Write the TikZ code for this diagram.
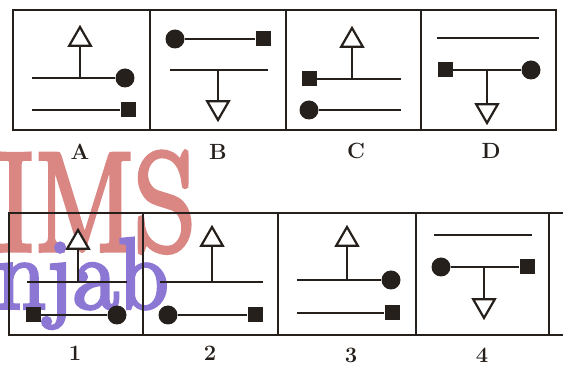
\documentclass[tikz,border=0pt]{standalone}
\usepackage{fontspec}
\usepackage{tikz}
\usetikzlibrary{shapes.geometric}
\newfontfamily\wmfont[FakeBold=4]{Latin Modern Roman}
\definecolor{ink}{RGB}{38,32,28}
\definecolor{wmred}{RGB}{218,134,130}
\definecolor{wmblue}{RGB}{140,120,212}

\begin{document}
\begin{tikzpicture}[x=1pt,y=-1pt,
  frame/.style={draw=ink,line width=2.8pt},
  bar/.style={draw=ink,line width=2.5pt},
  dot/.style={circle,fill=ink,inner sep=0pt,minimum size=19pt},
  sq/.style={rectangle,fill=ink,inner sep=0pt,minimum size=15pt},
  tri/.style={regular polygon,regular polygon sides=3,draw=ink,fill=white,line width=2.2pt,inner sep=0pt,minimum size=25pt},
  trid/.style={tri,shape border rotate=180},
  lab/.style={font=\fontsize{22}{22}\selectfont\bfseries,text=ink},
  wmtext/.style={draw=none,inner sep=0pt,anchor=base west}]
\useasboundingbox (0,0) rectangle (574,371);

% watermark (under the figures)
\node[wmtext,text=wmred,font=\fontsize{140}{140}\selectfont\wmfont,xscale=.84] (wmA) at (-4,250) {IMS};
\node[wmtext,text=wmblue,font=\fontsize{100}{100}\selectfont\wmfont,xscale=.98] (wmB) at (-4,308) {njab};

% question figures
\draw[frame] (13,10) rectangle (556,130);
\draw[frame] (150,10) -- (150,130) (286,10) -- (286,130) (421,10) -- (421,130);

% A
\node[tri] (triA) at (80,39.5) {};
\coordinate (jA) at (80,78);
\coordinate (lA) at (32,78);
\node[dot] (dotA) at (125,78) {};
\coordinate (mA) at (32,110);
\node[sq] (sqA) at (128,110) {};
\draw[bar] (lA) -- (dotA);
\draw[bar] (jA) -- (triA.south);
\draw[bar] (mA) -- (sqA);
\node[lab] (labA) at (80,152) {A};

% B
\node[dot] (dotB) at (175,39) {};
\node[sq] (sqB) at (263,39) {};
\coordinate (lB) at (170,70);
\coordinate (rB) at (268,70);
\coordinate (jB) at (218,70);
\node[trid] (triB) at (218,107.5) {};
\draw[bar] (dotB) -- (sqB);
\draw[bar] (lB) -- (rB);
\draw[bar] (jB) -- (triB.north);
\node[lab] (labB) at (218,152) {B};

% C
\node[tri] (triC) at (352,40.5) {};
\node[sq] (sqC) at (309,79) {};
\coordinate (rC) at (401,79);
\coordinate (jC) at (352,79);
\node[dot] (dotC) at (309,110) {};
\coordinate (sC) at (401,110);
\draw[bar] (sqC) -- (rC);
\draw[bar] (jC) -- (triC.south);
\draw[bar] (dotC) -- (sC);
\node[lab] (labC) at (356,151) {C};

% D
\coordinate (lD) at (437,38);
\coordinate (rD) at (539,38);
\node[sq] (sqD) at (445,70) {};
\node[dot] (dotD) at (531,70) {};
\coordinate (jD) at (487,70);
\node[trid] (triD) at (487,110.5) {};
\draw[bar] (lD) -- (rD);
\draw[bar] (sqD) -- (dotD);
\draw[bar] (jD) -- (triD.north);
\node[lab] (labD) at (491,151) {D};

% answer figures
\draw[frame] (9,213) rectangle (549,335);
\draw[frame] (549,213) -- (563,213) (549,335) -- (563,335);
\draw[frame] (143,213) -- (143,335) (278,213) -- (278,335) (416,213) -- (416,335);

% 1
\node[tri] (tri1) at (78,242.5) {};
\coordinate (j1) at (78,282);
\coordinate (l1) at (27,282);
\coordinate (r1) at (127,282);
\node[sq] (sq1) at (33,315) {};
\node[dot] (dot1) at (117,315) {};
\draw[bar] (l1) -- (r1);
\draw[bar] (j1) -- (tri1.south);
\draw[bar] (sq1) -- (dot1);
\node[lab] (lab1) at (75,353) {1};

% 2
\node[tri] (tri2) at (212,239.5) {};
\coordinate (j2) at (212,282);
\coordinate (l2) at (160,282);
\coordinate (r2) at (263,282);
\node[dot] (dot2) at (168,315) {};
\node[sq] (sq2) at (255,315) {};
\draw[bar] (l2) -- (r2);
\draw[bar] (j2) -- (tri2.south);
\draw[bar] (dot2) -- (sq2);
\node[lab] (lab2) at (210,353) {2};

% 3
\node[tri] (tri3) at (347,239.5) {};
\coordinate (j3) at (347,280);
\coordinate (l3) at (297,280);
\node[dot] (dot3) at (391,280) {};
\coordinate (m3) at (297,313);
\node[sq] (sq3) at (392,313) {};
\draw[bar] (l3) -- (dot3);
\draw[bar] (j3) -- (tri3.south);
\draw[bar] (m3) -- (sq3);
\node[lab] (lab3) at (351,355) {3};

% 4
\coordinate (l4) at (434,235);
\coordinate (r4) at (532,235);
\node[dot] (dot4) at (441,267) {};
\node[sq] (sq4) at (527,267) {};
\coordinate (j4) at (484,267);
\node[trid] (tri4) at (484,305.5) {};
\draw[bar] (l4) -- (r4);
\draw[bar] (dot4) -- (sq4);
\draw[bar] (j4) -- (tri4.north);
\node[lab] (lab4) at (482,355) {4};
\end{tikzpicture}
\end{document}
